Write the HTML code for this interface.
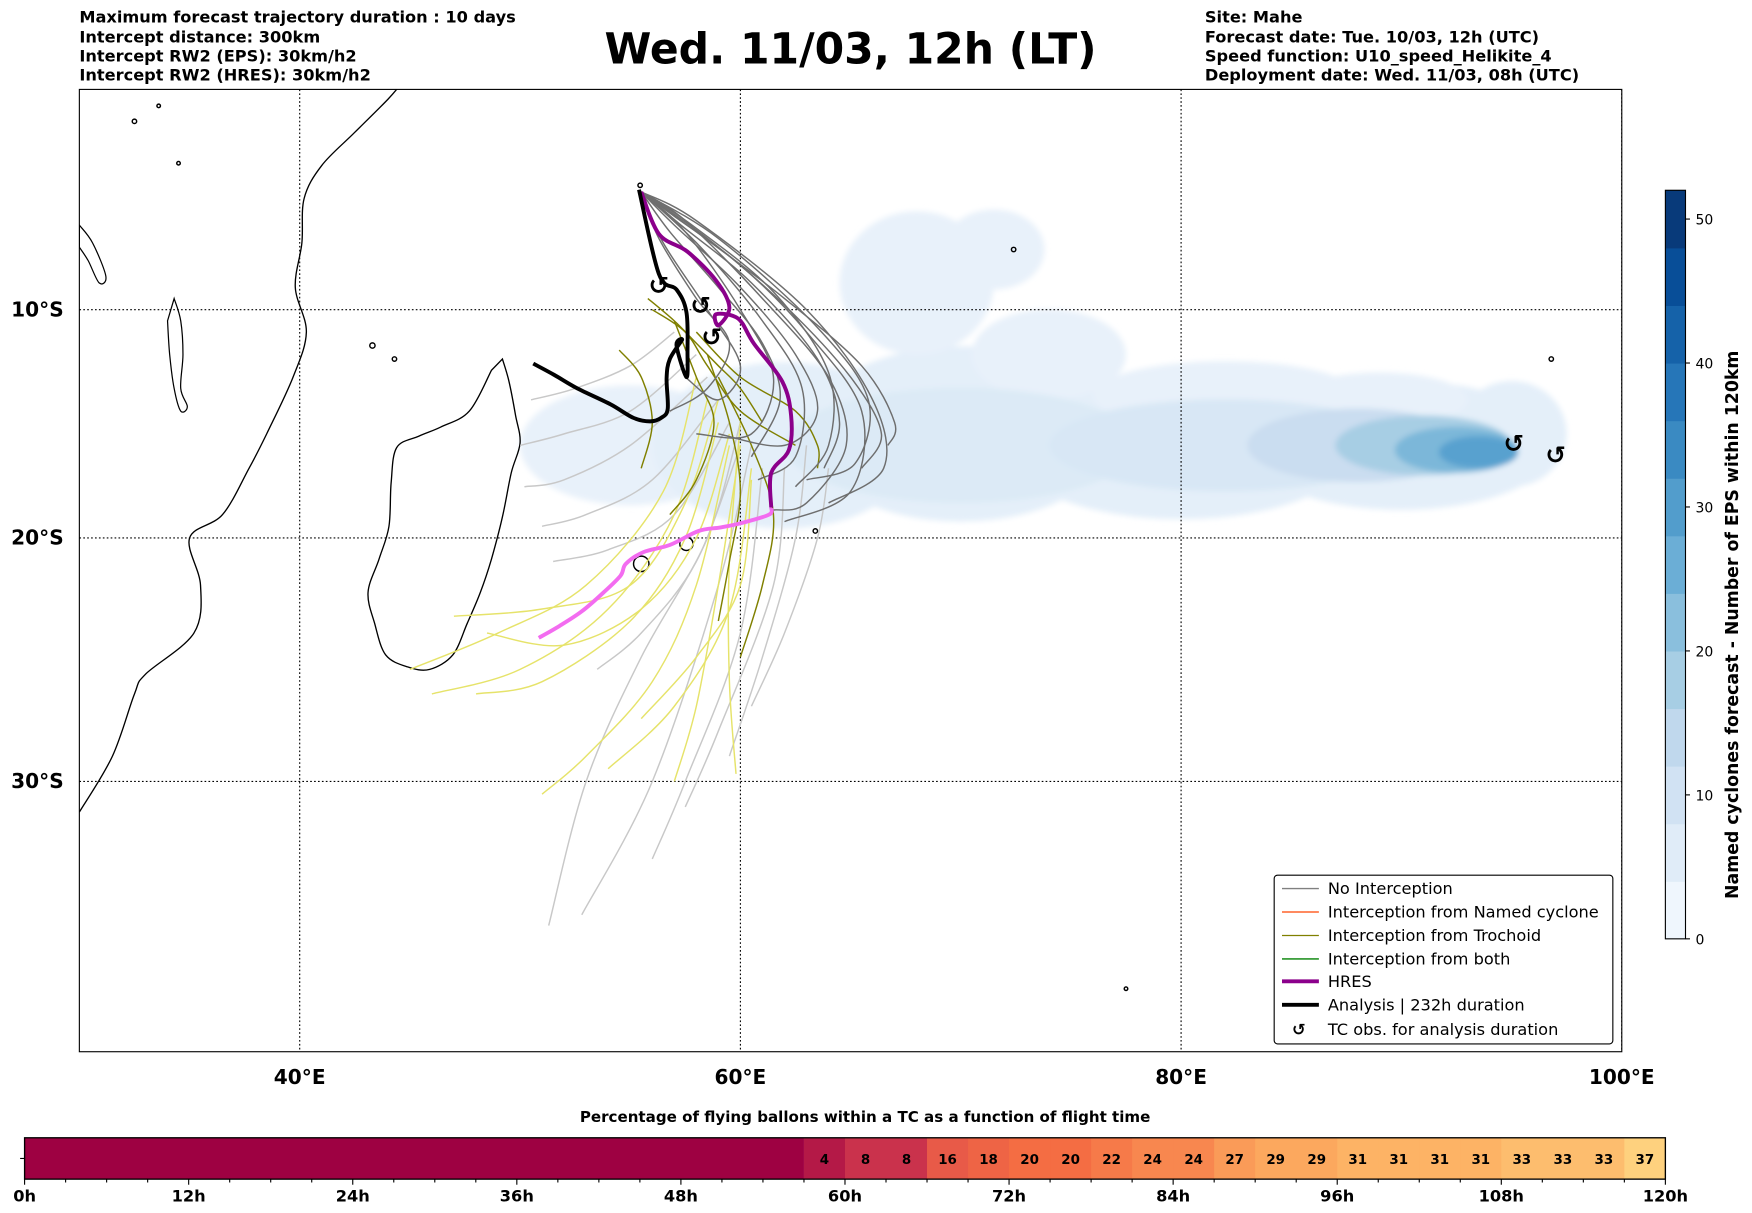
<!DOCTYPE html>
<html><head><meta charset="utf-8"><style>
html,body{margin:0;padding:0;background:#fff;}
svg{display:block;font-family:"DejaVu Sans","Liberation Sans",sans-serif;}
</style></head><body>
<svg id="chart" width="1752" height="1213" viewBox="0 0 1567.5 1085.3" preserveAspectRatio="none" xmlns="http://www.w3.org/2000/svg">
<defs>
<clipPath id="mapclip"><rect x="71" y="80" width="1380" height="861"/></clipPath>
<filter id="soft"><feGaussianBlur stdDeviation="2.5"/></filter>
</defs>
<g font-size="14.5" font-weight="bold">
<text x="71" y="20">Maximum forecast trajectory duration : 10 days</text>
<text x="71" y="38">Intercept distance: 300km</text>
<text x="71" y="55">Intercept RW2 (EPS):  30km/h2</text>
<text x="71" y="72">Intercept RW2 (HRES): 30km/h2</text>
</g>
<text x="761" y="57" font-size="38" font-weight="bold" text-anchor="middle">Wed. 11/03, 12h (LT)</text>
<g font-size="14.5" font-weight="bold">
<text x="1078" y="20">Site: Mahe</text>
<text x="1078" y="38">Forecast date: Tue. 10/03, 12h (UTC)</text>
<text x="1078" y="55">Speed function: U10_speed_Helikite_4</text>
<text x="1078" y="72">Deployment date: Wed. 11/03, 08h (UTC)</text>
</g>
<g id="map"></g>
<g id="legend">
<rect x="1140" y="783" width="303" height="151" rx="3" fill="#fff" stroke="#000" stroke-width="1"/>
<g font-size="14.5">
<line x1="1147" y1="795" x2="1180" y2="795" stroke="#808080" stroke-width="1.2"/><text x="1188" y="800">No Interception</text>
<line x1="1147" y1="816" x2="1180" y2="816" stroke="#ff4500" stroke-width="1.2"/><text x="1188" y="821">Interception from Named cyclone</text>
<line x1="1147" y1="837" x2="1180" y2="837" stroke="#808000" stroke-width="1.2"/><text x="1188" y="842">Interception from Trochoid</text>
<line x1="1147" y1="858" x2="1180" y2="858" stroke="#008000" stroke-width="1.2"/><text x="1188" y="863">Interception from both</text>
<line x1="1147" y1="878" x2="1180" y2="878" stroke="#8b008b" stroke-width="3.5"/><text x="1188" y="883">HRES</text>
<line x1="1147" y1="899" x2="1180" y2="899" stroke="#000" stroke-width="3.5"/><text x="1188" y="904">Analysis | 232h duration</text>
<text x="1162" y="926" font-weight="bold" text-anchor="middle">↺</text><text x="1188" y="926">TC obs. for analysis duration</text>
</g></g>
<g id="cbar"></g>
<text x="774" y="1004" font-size="13.5" font-weight="bold" text-anchor="middle">Percentage of flying ballons within a TC as a function of flight time</text>
<g id="bar"></g>
</svg>
<script>
const NS="http://www.w3.org/2000/svg";
// ---------- data ----------
const lonTicks=[40,60,80,100];
const latTicks=[-10,-20,-30];
const cbarTicks=[0,10,20,30,40,50];
const barHours=[0,12,24,36,48,60,72,84,96,108,120];
const barSegStart=[57,60,63,66,69,72,75,78,81,84,87,90,93,96,99,102,105,108,111,114,117];
const barValues=[4,8,8,16,18,20,20,22,24,24,27,29,29,31,31,31,31,33,33,33,37];
const densityBlobs=[
[55,-16,5,2.6,4],[62,-16,6,3.6,5],[70,-15.5,7,3.8,5],[80,-16,8,3.2,5],[90,-16,7,2.8,5],[95,-15.5,2.5,2.3,5],
[68,-8.8,3.5,3.2,4],[71.5,-7.3,2.3,1.8,4],[74,-12,3.5,2,4],[82,-13.8,6,1.5,4],[89,-14,4,1.2,4],
[70,-16,8,2.5,7],[82,-16,8,2,8],[88,-16,5,1.6,12],[91,-16,4,1.3,18],[92.5,-16.2,2.8,1,24],[93.5,-16.3,1.8,0.7,29]];
const noInterception=[
[[55.5,-4.7],[58,-6.5],[62,-9.5],[65.5,-12.5],[67,-15],[66.7,-16]],
[[55.5,-4.7],[58.5,-6.8],[62,-9.8],[65,-13],[66.4,-15.5],[65.5,-17]],
[[55.5,-4.7],[57.5,-6],[61,-9.5],[64,-13],[64.8,-16],[63,-18.5],[61.5,-18.8]],
[[55.5,-4.7],[57,-6.2],[60,-9],[62.5,-12],[63.5,-14.5],[62,-16],[59,-15.5]],
[[55.5,-4.7],[57.5,-6.5],[60,-10],[61.5,-13],[60.5,-15.5],[58,-15.5]],
[[55.5,-4.7],[56.5,-7],[58.5,-10],[60,-12.5],[59,-14],[57.5,-13]],
[[55.5,-4.7],[58,-6],[63,-10],[66,-14],[66.5,-17],[64,-18.5]],
[[55.5,-4.7],[57.3,-6.2],[60.5,-8.8],[63.5,-12.2],[64.5,-15],[63.8,-17]],
[[55.5,-4.7],[56.8,-6.5],[59,-9],[61,-11.5],[61.8,-14],[60.5,-16.5]],
[[55.5,-4.7],[57,-5.8],[60,-8],[63,-11],[65.5,-14.5],[65,-18],[62,-19.3]],
[[55.5,-4.7],[56.3,-6.8],[58,-9.5],[59.5,-11.5],[58.5,-13.5],[56.8,-14.5]],
[[55.5,-4.7],[57.8,-6.2],[61.5,-9.2],[64,-12.8],[64,-16],[62.5,-17.8]],
[[55.5,-4.7],[58.2,-7.2],[61,-10.5],[62.8,-13.5],[62.5,-16.5],[60.8,-17.5]],
[[55.5,-4.7],[59,-6.8],[63.5,-10.8],[65.8,-14],[65.2,-16.8],[63,-17.5]]];
const lightGray=[
[[57,-11],[55,-12.5],[52.5,-13.5],[50.5,-14]],
[[58,-12],[55,-14.5],[52,-15.5],[50,-16]],
[[58.5,-13],[55,-16],[52,-17.5],[50.2,-17.8]],
[[59,-14],[56,-17.5],[53,-19],[51,-19.5]],
[[59.5,-15],[57,-19],[54,-20.5],[51.5,-21]],
[[60,-16],[58,-21],[55.5,-24],[53.5,-25.5]],
[[60,-15],[58.5,-20],[55.5,-25],[53,-30],[51.3,-35.5]],
[[60.5,-16],[59,-22],[56,-30],[52.8,-35.1]],
[[61,-17],[60,-24],[57.5,-30],[56,-33]],
[[62,-17],[61.5,-22],[59,-28],[57.5,-31]],
[[63,-16],[62.5,-20],[61,-25],[59.5,-29]],
[[64,-17],[63.5,-20],[62,-24],[60.5,-27]]];
const trochoidYellow=[
[[58,-13],[56.5,-18],[53,-22],[49,-24],[45,-25.5]],
[[58.5,-14],[57,-19],[54,-23],[50,-25.5],[46,-26.5]],
[[59,-15],[57.5,-20],[55,-23.5],[51,-26],[48,-26.5]],
[[59,-14],[57.5,-18.5],[55,-22],[51,-23],[47,-23.3]],
[[59.5,-16],[58,-22],[56,-26],[53,-29],[51,-30.5]],
[[60,-16],[59,-22],[58,-27],[57,-30]],
[[60,-15],[59.5,-21],[59.5,-26],[59.8,-29.7]],
[[60.5,-17],[59.5,-23],[57,-27],[54,-29.5]],
[[59.5,-15.5],[58,-20],[55.5,-23],[52,-24.5],[48.5,-24]],
[[60.5,-17.5],[60,-22],[58,-25],[55.5,-27.5]]];
const trochoidOlive=[
[[55.8,-9.5],[57,-10.5],[58,-11.5],[59,-12.5],[60,-13.5],[61,-15]],
[[56,-10],[57.5,-11],[58.5,-12.5],[60,-14.5],[62.5,-16]],
[[58.5,-12],[59.5,-15],[60,-18],[59.5,-21],[59,-23.5]],
[[59,-13],[60.5,-16],[61.5,-19],[61,-22],[60,-25]],
[[58,-11],[60,-13],[62.5,-14.5],[63.5,-16],[63.5,-17]],
[[54.5,-11.8],[55.5,-13],[56,-15],[55.5,-17]],
[[57,-10.5],[58,-13],[58.8,-15],[58,-17.5],[56.8,-19]]];
const hresPurple=[[55.5,-4.7],[56.3,-6.6],[57.6,-7.4],[58.9,-8.7],[59.5,-9.9],[59,-10.7],[58.9,-10.2],[59.9,-10.4],[60.6,-11.5],[61.9,-13.2],[62.3,-14.7],[62.2,-16.2],[61.4,-17.2],[61.4,-18.7]];
const hresPink=[[61.4,-18.7],[61.3,-19],[60.1,-19.35],[59.1,-19.55],[58.1,-19.7],[56.8,-20.3],[55.6,-20.6],[54.8,-21.1],[54.56,-21.6],[53.8,-22.3],[52.8,-23.1],[51.8,-23.7],[50.85,-24.2]];
const analysisTrack=[[55.4,-4.6],[56.3,-8.4],[57.1,-9.1],[57.55,-10.1],[57.6,-11.9],[57.55,-13],[57.1,-11.6],[57.35,-11.35],[56.8,-12.2],[56.65,-13.05],[56.7,-14.4],[56.4,-14.8],[55.9,-14.95],[55.15,-14.8],[54.1,-14.2],[52.6,-13.5],[51.55,-12.9],[50.6,-12.4]];
const tcObs=[[56.3,-8.9],[58.2,-9.8],[58.7,-11.2],[95.1,-15.9],[97,-16.4]];
const africa=[[30,-31.2],[31.5,-29],[32.5,-26.5],[33,-25.7],[35.2,-24],[35.5,-22],[35,-20],[36.5,-19],[37.7,-17],[38.5,-15.5],[39.7,-13],[40.3,-11],[39.8,-9],[40.1,-7],[40.2,-5],[41,-3.5],[42.5,-2],[44,-0.5],[44.6,0.2]];
const lakeMalawi=[[34.3,-9.5],[34.6,-10.5],[34.7,-12],[34.6,-13.5],[34.9,-14.3],[34.6,-14.5],[34.3,-13.5],[34.1,-12],[34,-10.5]];
const lakeTanganyika=[[30,-6.2],[30.6,-7],[31.2,-8.5],[30.9,-8.8],[30.4,-7.8],[30,-7.2]];
const madagascar=[[49.2,-12.2],[49.5,-13.2],[49.8,-14.7],[50,-15.9],[49.6,-17.2],[49.2,-19.1],[48.7,-20.9],[48.2,-22.3],[47.6,-23.6],[46.95,-24.9],[45.9,-25.5],[44.9,-25.4],[43.9,-24.9],[43.4,-23.6],[43.1,-22.3],[43.6,-20.9],[44.05,-19.5],[44.15,-17.6],[44.4,-16.1],[45.4,-15.6],[46.4,-15.2],[47.7,-14.5],[48.7,-12.7]];
const islands=[[55.5,-21.1,0.35],[57.55,-20.25,0.3],[55.45,-4.4,0.1],[63.4,-19.7,0.1],[43.3,-11.6,0.12],[44.3,-12.2,0.1],[72.4,-7.3,0.1],[96.8,-12.2,0.1],[77.5,-37.8,0.08],[32.5,-1.5,0.1],[33.6,-0.8,0.08],[34.5,-3.4,0.08]];

// ---------- axes ----------
const X0=71,X1=1451,Y0=79,LON0=30,LON1=100,K=1129;
const px=lon=>X0+(lon-LON0)*(X1-X0)/(LON1-LON0);
const py=lat=>{const r=lat*Math.PI/180;return Y0-K*Math.log(Math.tan(Math.PI/4+r/2));};
function el(tag,attrs,parent){const e=document.createElementNS(NS,tag);for(const k in attrs)e.setAttribute(k,attrs[k]);parent.appendChild(e);return e;}
function smooth(pts){const p=pts.map(q=>[px(q[0]),py(q[1])]);let d="M"+p[0][0].toFixed(1)+","+p[0][1].toFixed(1);
for(let i=0;i<p.length-1;i++){const a=p[Math.max(0,i-1)],b=p[i],c=p[i+1],e=p[Math.min(p.length-1,i+2)];
const c1=[b[0]+(c[0]-a[0])/6,b[1]+(c[1]-a[1])/6],c2=[c[0]-(e[0]-b[0])/6,c[1]-(e[1]-b[1])/6];
d+=" C"+c1.map(v=>v.toFixed(1)).join(",")+" "+c2.map(v=>v.toFixed(1)).join(",")+" "+c.map(v=>v.toFixed(1)).join(",");}return d;}
function lerpHex(stops,t){t=Math.max(0,Math.min(1,t));const n=stops.length-1;const i=Math.min(n-1,Math.floor(t*n));const f=t*n-i;
const h=s=>[1,3,5].map(j=>parseInt(s.substr(j,2),16));const A=h(stops[i]),B=h(stops[i+1]);
return "rgb("+A.map((v,j)=>Math.round(v+(B[j]-v)*f)).join(",")+")";}
const BLUES=["#f7fbff","#deebf7","#c6dbef","#9ecae1","#6baed6","#4292c6","#2171b5","#08519c","#08306b"];
const SPECTRAL=["#9e0142","#d53e4f","#f46d43","#fdae61","#fee08b","#ffffbf","#e6f598","#abdda4","#66c2a5","#3288bd","#5e4fa2"];
const VMAX=52;
const blueColor=v=>lerpHex(BLUES,v/VMAX);
const barColor=v=>lerpHex(SPECTRAL,v/100);

const map=document.getElementById('map');
el('rect',{x:X0,y:80,width:X1-X0,height:861,fill:'#fff'},map);
const inner=el('g',{'clip-path':'url(#mapclip)'},map);
const dens=el('g',{filter:'url(#soft)'},inner);


densityBlobs.forEach(b=>{const cx=px(b[0]),cy=py(b[1]);const rx=px(b[0]+b[2])-cx;const ry=py(b[1]-b[3])-cy;
const e=el('ellipse',{cx:cx,cy:cy,rx:rx,ry:ry,fill:blueColor(b[4])},dens);

});
lonTicks.forEach(l=>{const g=el('line',{x1:px(l),x2:px(l),y1:80,y2:941,stroke:'#000','stroke-width':1,'stroke-dasharray':'1.5,2'},inner);

});
latTicks.forEach(l=>{const g=el('line',{x1:X0,x2:X1,y1:py(l),y2:py(l),stroke:'#000','stroke-width':1,'stroke-dasharray':'1.5,2'},inner);

});
const af=el('path',{d:smooth(africa),fill:'none',stroke:'#000','stroke-width':1.2},inner);


[[lakeMalawi,'lake-malawi'],[lakeTanganyika,'lake-tanganyika']].forEach(L=>{
const p=el('path',{d:smooth(L[0])+" Z",fill:'none',stroke:'#000','stroke-width':1.1},inner);

});
const md=el('path',{d:smooth(madagascar)+" Z",fill:'none',stroke:'#000','stroke-width':1.2},inner);


islands.forEach(s=>{const c=el('circle',{cx:px(s[0]),cy:py(s[1]),r:px(s[0]+s[2])-px(s[0]),fill:'none',stroke:'#000','stroke-width':1.3},inner);

});
function drawSet(set,color,w,name){set.forEach(t=>{const p=el('path',{d:smooth(t),fill:'none',stroke:color,'stroke-width':w},inner);

});}
drawSet(lightGray,'#c8c8c8',1.3,'trajectory-no-interception-light');
drawSet(trochoidYellow,'#e6e36a',1.3,'trajectory-trochoid-late');
drawSet(trochoidOlive,'#808000',1.3,'trajectory-trochoid');
drawSet(noInterception,'#6e6e6e',1.3,'trajectory-no-interception');
const hp=el('path',{d:smooth(hresPurple),fill:'none',stroke:'#8b008b','stroke-width':3.5},inner);


const hk=el('path',{d:smooth(hresPink),fill:'none',stroke:'#f36cf0','stroke-width':3.5},inner);


const an=el('path',{d:smooth(analysisTrack),fill:'none',stroke:'#000','stroke-width':3.5},inner);


tcObs.forEach(o=>{const t=el('text',{x:px(o[0]),y:py(o[1])+8,'font-size':22,'font-weight':'bold','text-anchor':'middle'},inner);
t.textContent='↺';

});
el('rect',{x:X0,y:80,width:X1-X0,height:861,fill:'none',stroke:'#000','stroke-width':1},map);
lonTicks.forEach(l=>{const t=el('text',{x:px(l),y:970,'font-size':18,'font-weight':'bold','text-anchor':'middle'},map);
t.textContent=l+'°E';

});
latTicks.forEach(l=>{const t=el('text',{x:57,y:py(l)+6,'font-size':18,'font-weight':'bold','text-anchor':'end'},map);
t.textContent=(-l)+'°S';

});
const cb=document.getElementById('cbar');const CY0=840,CPX=12.88;
for(let v=0;v<VMAX;v+=4){const r=el('rect',{x:1490,y:CY0-(v+4)*CPX,width:18,height:4*CPX+0.5,fill:blueColor(v+2)},cb);

}
el('rect',{x:1490,y:CY0-VMAX*CPX,width:18,height:VMAX*CPX,fill:'none',stroke:'#000','stroke-width':1},cb);
cbarTicks.forEach(v=>{const y=CY0-v*CPX;el('line',{x1:1508,x2:1512,y1:y,y2:y,stroke:'#000'},cb);
const t=el('text',{x:1517,y:y+5,'font-size':12.5},cb);t.textContent=v;

});
const cl=el('text',{x:0,y:0,'font-size':15.5,'font-weight':'bold','text-anchor':'middle',transform:'translate(1555,559) rotate(-90)'},cb);
cl.textContent='Named cyclones forecast - Number of EPS within 120km';


const bar=document.getElementById('bar');const BX0=22,BX1=1490,BY=1018,BH=37;
const hx=h=>BX0+h*(BX1-BX0)/120;
el('rect',{x:hx(0),y:BY,width:hx(barSegStart[0])-hx(0),height:BH,fill:barColor(0)},bar);
barSegStart.forEach((s,i)=>{const r=el('rect',{x:hx(s),y:BY,width:hx(s+3)-hx(s)+0.4,height:BH,fill:barColor(barValues[i])},bar);


const t=el('text',{x:hx(s+1.5),y:BY+BH/2+5,'font-size':12,'font-weight':'bold','text-anchor':'middle'},bar);
t.textContent=barValues[i];

});
el('rect',{x:BX0,y:BY,width:BX1-BX0,height:BH,fill:'none',stroke:'#000','stroke-width':1.2},bar);
el('line',{x1:BX0-4,x2:BX0,y1:BY+BH/2,y2:BY+BH/2,stroke:'#000'},bar);
for(let h=0;h<=120;h+=3){el('line',{x1:hx(h),x2:hx(h),y1:BY+BH,y2:BY+BH+(h%12===0?5:3),stroke:'#000'},bar);}
barHours.forEach(h=>{const t=el('text',{x:hx(h),y:1075,'font-size':14.5,'font-weight':'bold','text-anchor':'middle'},bar);
t.textContent=h+'h';

});
</script>
</body></html>
